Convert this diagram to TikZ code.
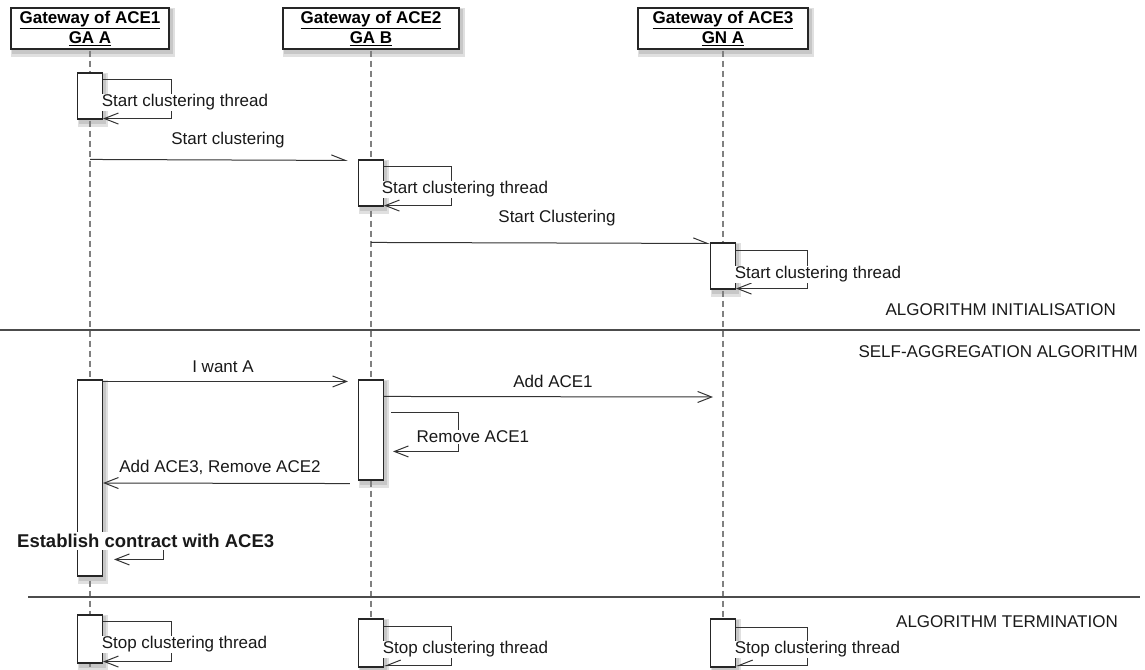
\documentclass[tikz,border=0pt]{standalone}
\usepackage{fontspec}
\setmainfont{Liberation Sans}
\usetikzlibrary{arrows.meta,calc,backgrounds}
\begin{document}
\begin{tikzpicture}[x=1pt,y=-1pt,
  font=\fontsize{17}{20}\selectfont,
  head/.style={draw=black!85,line width=1.2pt,fill=white,minimum height=41pt,
    align=center,inner sep=0pt,font=\fontsize{17}{20}\selectfont\bfseries},
  act/.style={draw=black!85,line width=1.1pt,fill=white,minimum width=25pt,inner sep=0pt},
  life/.style={draw=black!50,line width=1.3pt,dash pattern=on 6pt off 4pt},
  sep/.style={draw=black!70,line width=1.5pt},
  msg/.style={draw=black!80,line width=1pt,-{Straight Barb[length=14pt,width=11pt,line width=1pt]}},
  hmsg/.style={draw=black!80,line width=1pt,-{Straight Barb[length=14pt,width=11pt,line width=1pt,harpoon]}},
  hmsgs/.style={draw=black!80,line width=1pt,-{Straight Barb[length=14pt,width=11pt,line width=1pt,harpoon,swap]}},
  lbl/.style={inner sep=0.5pt,fill=white,text=black!90},
  ttl/.style={inner sep=0pt,anchor=east,text=black!90},
  shadA/.style={fill=black!12,draw=none},
  shadB/.style={fill=black!22,draw=none},
]
\useasboundingbox (0,0) rectangle (1145,669);

% headers
\node[head,minimum width=158pt] (h1) at (90,28.5) {\underline{Gateway of ACE1}\\\underline{GA A}};
\node[head,minimum width=176pt] (h2) at (371,28.5) {\underline{Gateway of ACE2}\\\underline{GA B}};
\node[head,minimum width=170pt] (h3) at (723,28.5) {\underline{Gateway of ACE3}\\\underline{GN A}};

% lifelines
\coordinate (e1) at (90,669);
\coordinate (e2) at (371,669);
\coordinate (e3) at (723,669);
\draw[life] ([yshift=-1pt]h1.south) -- (e1);
\draw[life] ([yshift=-1pt]h2.south) -- (e2);
\draw[life] ([yshift=-1pt]h3.south) -- (e3);

% separators
\coordinate (s1a) at (0,330);   \coordinate (s1b) at (1140,330);
\coordinate (s2a) at (28,597);  \coordinate (s2b) at (1140,597);
\draw[sep] (s1a) -- (s1b);
\draw[sep] (s2a) -- (s2b);

% activation boxes
\node[act,minimum height=46pt] (a1) at (90,96) {};
\node[act,minimum height=46pt] (a2) at (371,183) {};
\node[act,minimum height=46pt] (a3) at (723,266) {};
\node[act,minimum height=196pt] (b1) at (90,478) {};
\node[act,minimum height=100pt] (b2) at (371,430) {};
\node[act,minimum height=48pt] (c1) at (90,639) {};
\node[act,minimum height=48pt] (c2) at (371,643) {};
\node[act,minimum height=48pt] (c3) at (723,643) {};

% soft shadows
\begin{scope}[on background layer]
\foreach \n in {h1,h2,h3,a1,a2,a3,b1,b2,c1,c2,c3}{
  \fill[shadA] ([xshift=1pt,yshift=-1pt]\n.north west) rectangle ([xshift=5pt,yshift=-7pt]\n.south east);
  \fill[shadB] ([xshift=2pt,yshift=-2pt]\n.north west) rectangle ([xshift=3pt,yshift=-4pt]\n.south east);
}
\end{scope}

% initialisation
\draw[msg] ([yshift=-7pt]a1.north east) -- ++(68,0) |- ([yshift=1pt]a1.south east);
\node[lbl,anchor=west] at ([xshift=-2pt,yshift=-30pt]a1.north east) {Start clustering thread};
\draw[hmsg] (h1.south |- a2.north) -- ([xshift=-10pt,yshift=-1pt]a2.north west);
\node[lbl] at (228,140) {Start clustering};
\draw[msg] ([yshift=-7pt]a2.north east) -- ++(67,0) |- ([yshift=1pt]a2.south east);
\node[lbl,anchor=west] at ([xshift=-3pt,yshift=-30pt]a2.north east) {Start clustering thread};
\draw[hmsg] (h2.south |- a3.north) -- ([yshift=-1pt]a3.north west);
\node[lbl] at (557,218) {Start Clustering};
\draw[msg] ([yshift=-8pt]a3.north east) -- ++(71,0) |- ([yshift=1pt]a3.south east);
\node[lbl,anchor=west] at ([xshift=-2pt,yshift=-32pt]a3.north east) {Start clustering thread};
\node[ttl] at (1116,310) {ALGORITHM INITIALISATION};

% self-aggregation
\node[ttl] at (1138,352) {SELF-AGGREGATION ALGORITHM};
\draw[msg] ([yshift=-2pt]b1.north east) -- ([xshift=-10pt,yshift=-2pt]b2.north west);
\node[lbl] at (223,367) {I want A};
\coordinate (m4e) at (713,397);
\draw[msg] ([yshift=-17pt]b2.north east) -- (m4e);
\node[lbl] at (553,381) {Add ACE1};
\draw[msg] ([xshift=7pt,yshift=-33pt]b2.north east) -- ++(67,0) |- ([xshift=9pt,yshift=-72pt]b2.north east);
\node[lbl,anchor=west] at (416,437) {Remove ACE1};
\draw[msg] ([xshift=-8pt,yshift=-3pt]b2.south west) -- (b1.east |- 0,483);
\node[lbl] at (220,467) {Add ACE3, Remove ACE2};
\draw[msg] ([yshift=-155pt]b1.north east) -- ++(60,0) |- ([xshift=11pt,yshift=-180pt]b1.north east);
\node[lbl,anchor=west,inner sep=2pt,font=\fontsize{18.5}{22}\selectfont\bfseries] at (15,541) {Establish contract with ACE3};

% termination
\node[ttl] at (1118,622) {ALGORITHM TERMINATION};
\draw[msg] ([yshift=-7pt]c1.north east) -- ++(68,0) |- ([yshift=2pt]c1.south east);
\node[lbl,anchor=west] at ([xshift=-2pt,yshift=-30pt]c1.north east) {Stop clustering thread};
\draw[hmsgs] ([yshift=-8pt]c2.north east) -- ++(67,0) |- ([yshift=2pt]c2.south east);
\node[lbl,anchor=west] at ([xshift=-2pt,yshift=-31pt]c2.north east) {Stop clustering thread};
\draw[hmsgs] ([yshift=-9pt]c3.north east) -- ++(71,0) |- ([yshift=2pt]c3.south east);
\node[lbl,anchor=west] at ([xshift=-2pt,yshift=-31pt]c3.north east) {Stop clustering thread};
\end{tikzpicture}
\end{document}
